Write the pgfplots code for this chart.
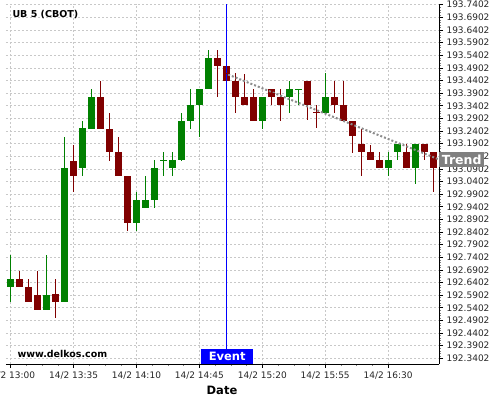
\documentclass[border=0pt]{standalone}
\usepackage{fontspec}
\setmainfont{DejaVu Sans}
\usepackage{pgfplots}
\pgfplotsset{compat=1.18}
\usepackage{pgfplotstable}

\definecolor{cgreen}{RGB}{0,128,0}
\definecolor{cred}{RGB}{128,0,0}
\definecolor{cgrid}{RGB}{200,200,200}
\definecolor{ctrend}{RGB}{140,140,140}
\definecolor{cbox}{RGB}{128,128,128}

% t = minutes after 14/2 13:00, o h l c = open high low close
\pgfplotstableread{
t o h l c
0 192.625 192.75 192.5625 192.65625
20 192.53125 192.75 192.53125 192.59375
30 192.5625 193.21875 192.5625 193.09375
40 193.09375 193.28125 193.0625 193.25
45 193.25 193.40625 193.25 193.375
70 192.875 193.0 192.84375 192.96875
75 192.9375 193.0625 192.9375 192.96875
80 192.96875 193.125 192.9375 193.09375
85 193.125 193.15625 193.0625 193.125
90 193.09375 193.15625 193.0625 193.125
95 193.125 193.3125 193.125 193.28125
100 193.28125 193.40625 193.25 193.34375
105 193.34375 193.40625 193.21875 193.40625
110 193.40625 193.5625 193.40625 193.53125
140 193.28125 193.375 193.25 193.375
155 193.375 193.4375 193.3125 193.40625
160 193.40625 193.40625 193.34375 193.40625
175 193.3125 193.46875 193.3125 193.375
210 193.09375 193.15625 193.0625 193.125
215 193.15625 193.1875 193.125 193.1875
225 193.09375 193.1875 193.03125 193.1875
}\upcandles

\pgfplotstableread{
t o h l c
5 192.65625 192.6875 192.625 192.625
10 192.625 192.65625 192.5625 192.5625
15 192.59375 192.6875 192.53125 192.53125
25 192.59375 192.65625 192.5 192.5625
35 193.125 193.1875 193.0 193.0625
50 193.375 193.4375 193.25 193.25
55 193.25 193.3125 193.125 193.15625
60 193.15625 193.21875 193.0625 193.0625
65 193.0625 193.0625 192.84375 192.875
115 193.53125 193.5625 193.375 193.5
120 193.5 193.5 193.4375 193.4375
125 193.4375 193.46875 193.3125 193.375
130 193.375 193.46875 193.34375 193.34375
135 193.375 193.40625 193.28125 193.28125
145 193.40625 193.40625 193.34375 193.375
150 193.375 193.40625 193.28125 193.34375
165 193.4375 193.4375 193.28125 193.34375
170 193.3125 193.34375 193.25 193.3125
180 193.375 193.4375 193.3125 193.34375
185 193.34375 193.4375 193.28125 193.28125
190 193.28125 193.28125 193.15625 193.21875
195 193.1875 193.25 193.0625 193.15625
200 193.15625 193.1875 193.125 193.125
205 193.125 193.15625 193.09375 193.09375
220 193.15625 193.1875 193.09375 193.09375
230 193.1875 193.1875 193.125 193.15625
235 193.15625 193.15625 193.0 193.09375
}\downcandles

\pgfplotsset{
  wick/.style={draw=none, mark=none, forget plot,
    error bars/.cd, y dir=both, y explicit, error mark=none,
    error bar style={draw=#1, line width=1pt}},
  body/.style={draw=none, mark=-, mark size=3.5pt, mark options={draw=#1, line width=1pt}, forget plot,
    error bars/.cd, y dir=both, y explicit, error mark=none,
    error bar style={draw=#1, line width=7pt}},
}

\begin{document}
\begin{tikzpicture}[x=1pt,y=1pt]
\begin{axis}[
  at={(6pt,36pt)}, anchor=south west,
  scale only axis, width=433pt, height=360.5pt,
  xmin=-2.6, xmax=238.3,
  ymin=192.3176, ymax=193.745,
  axis x line*=bottom, axis y line*=right,
  axis line style={black, line width=0.9pt},
  tick align=outside,
  major tick length=4pt, minor tick length=2pt,
  every tick/.style={black, line width=0.6pt},
  minor tick style={gray, line width=0.4pt},
  xtick={0,35,70,105,140,175,210},
  xticklabels={14/2 13:00,14/2 13:35,14/2 14:10,14/2 14:45,14/2 15:20,14/2 15:55,14/2 16:30},
  minor x tick num=3,
  ytick={192.3402,192.3902,192.4402,192.4902,192.5402,192.5902,192.6402,192.6902,192.7402,192.7902,192.8402,192.8902,192.9402,192.9902,193.0402,193.0902,193.1402,193.1902,193.2402,193.2902,193.3402,193.3902,193.4402,193.4902,193.5402,193.5902,193.6402,193.6902,193.7402},
  yticklabels={192.3402,192.3902,192.4402,192.4902,192.5402,192.5902,192.6402,192.6902,192.7402,192.7902,192.8402,192.8902,192.9402,192.9902,193.0402,193.0902,193.1402,193.1902,193.2402,193.2902,193.3402,193.3902,193.4402,193.4902,193.5402,193.5902,193.6402,193.6902,193.7402},
  minor y tick num=4,
  ticklabel style={font=\fontsize{9}{10}\selectfont, text=black!85},
  grid=major,
  major grid style={cgrid, dash pattern=on 2pt off 2pt, line width=0.6pt},
  clip=true,
]
% wicks
\addplot[wick=cgreen] table[x=t, y expr={(\thisrow{h}+\thisrow{l})/2}, y error expr={(\thisrow{h}-\thisrow{l})/2}] {\upcandles};
\addplot[wick=cred] table[x=t, y expr={(\thisrow{h}+\thisrow{l})/2}, y error expr={(\thisrow{h}-\thisrow{l})/2}] {\downcandles};
% bodies
\addplot[body=cgreen] table[x=t, y expr={(\thisrow{o}+\thisrow{c})/2}, y error expr={abs(\thisrow{c}-\thisrow{o})/2}] {\upcandles};
\addplot[body=cred] table[x=t, y expr={(\thisrow{o}+\thisrow{c})/2}, y error expr={abs(\thisrow{c}-\thisrow{o})/2}] {\downcandles};

% trend
\addplot[ctrend, line width=2pt, dash pattern=on 2pt off 2pt] coordinates {(121,193.4637) (238.3,193.1275)};
% event
\addplot[blue, line width=0.9pt] coordinates {(120,192.3176) (120,193.745)};
\end{axis}

\node[fill=blue, text=white, font=\fontsize{11.5}{12}\bfseries\selectfont, anchor=south,
  minimum width=52pt, minimum height=15pt, inner sep=0pt] at (227.2pt,36pt) {Event};
\node[fill=cbox, text=white, font=\fontsize{12.5}{13}\bfseries\selectfont, anchor=west,
  minimum width=45pt, minimum height=15pt, inner sep=0pt] at (439pt,240.5pt) {Trend};

\node[anchor=west, font=\fontsize{9.5}{10}\bfseries\selectfont] at (9pt,385pt) {UB 5 (CBOT)};
\node[anchor=west, font=\fontsize{9.5}{10}\bfseries\selectfont] at (14pt,46pt) {www.delkos.com};
\node[font=\fontsize{11.5}{12}\bfseries\selectfont] at (222pt,10pt) {Date};

\pgfresetboundingbox
\path[use as bounding box] (0,0) rectangle (500pt,400pt);
\end{tikzpicture}
\end{document}
